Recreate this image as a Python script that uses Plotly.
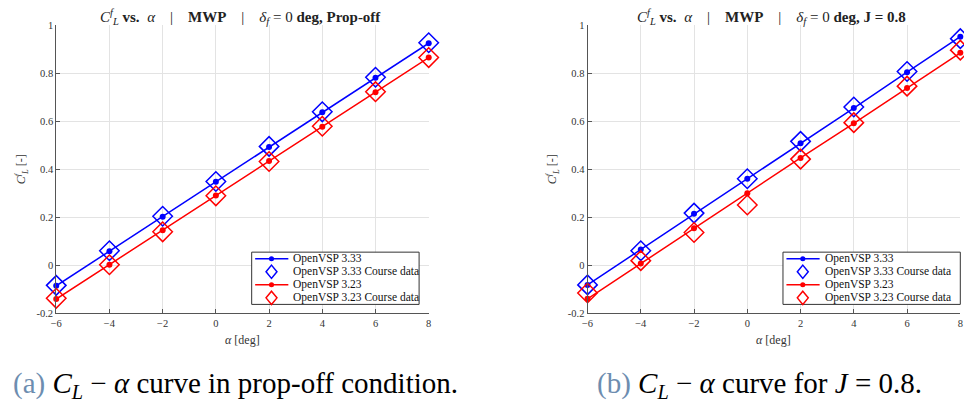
import plotly.graph_objects as go

# Angle of attack [deg]
alpha = [-6, -4, -2, 0, 2, 4, 6, 8]
x_ticks = [-6, -4, -2, 0, 2, 4, 6, 8]
y_ticks = [-0.2, 0, 0.2, 0.4, 0.6, 0.8, 1]
y_tick_text = ["-0.2", "0", "0.2", "0.4", "0.6", "0.8", "1"]

# Prop-off condition
cl_333_off = [-0.085, 0.059, 0.203, 0.349, 0.494, 0.638, 0.782, 0.926]
cl_333_off_course = [-0.083, 0.061, 0.205, 0.350, 0.496, 0.640, 0.784, 0.928]
cl_323_off = [-0.140, 0.003, 0.147, 0.291, 0.435, 0.578, 0.722, 0.866]
cl_323_off_course = [-0.137, 0.003, 0.140, 0.290, 0.433, 0.580, 0.724, 0.866]

# Prop-on, J = 0.8
cl_333_j = [-0.081, 0.066, 0.215, 0.361, 0.509, 0.656, 0.805, 0.953]
cl_333_j_course = [-0.081, 0.061, 0.218, 0.361, 0.517, 0.660, 0.808, 0.945]
cl_323_j = [-0.139, 0.008, 0.155, 0.301, 0.448, 0.592, 0.739, 0.886]
cl_323_j_course = [-0.115, 0.020, 0.137, 0.252, 0.443, 0.595, 0.747, 0.897]

series_names = ["OpenVSP 3.33", "OpenVSP 3.33 Course data",
                "OpenVSP 3.23", "OpenVSP 3.23 Course data"]

W, H = 964, 408
SERIF = "Liberation Serif, DejaVu Serif, serif"
BLUE, RED = "#0000ff", "#ff0000"
series_colors = [BLUE, BLUE, RED, RED]
series_kinds = ["line", "diamond", "line", "diamond"]

# plot-area pixel boxes
left_box = (50.7, 426.7)
right_box = (587.0, 963.3)
top_px, bot_px = 21.0, 317.0


def px_x(v):
    return v / W


def px_y(v):
    return 1 - v / H


fig = go.Figure()


def add_panel(xa, ya, cl_a, cl_a_c, cl_b, cl_b_c):
    values = [cl_a, cl_a_c, cl_b, cl_b_c]
    for name, vals, color, kind in zip(series_names, values, series_colors, series_kinds):
        if kind == "line":
            fig.add_trace(go.Scatter(x=alpha, y=vals, mode="lines+markers", name=name,
                                     xaxis=xa, yaxis=ya, cliponaxis=False, showlegend=False,
                                     line=dict(color=color, width=1.5),
                                     marker=dict(color=color, size=6)))
        else:
            fig.add_trace(go.Scatter(x=alpha, y=vals, mode="markers", name=name,
                                     xaxis=xa, yaxis=ya, cliponaxis=False, showlegend=False,
                                     marker=dict(symbol="diamond-open", color=color, size=15,
                                                 line=dict(width=1.5, color=color))))


add_panel("x", "y", cl_333_off, cl_333_off_course, cl_323_off, cl_323_off_course)
add_panel("x2", "y2", cl_333_j, cl_333_j_course, cl_323_j, cl_323_j_course)

axis_font = dict(family=SERIF, size=10.5, color="#333333")
xaxis_common = dict(range=[-6, 8], tickvals=x_ticks, ticks="inside", ticklen=4,
                    tickcolor="#555555", showline=True, linecolor="#555555", linewidth=1,
                    showgrid=True, gridcolor="#e3e3e3", gridwidth=1, zeroline=False,
                    tickfont=axis_font, fixedrange=True)
yaxis_common = dict(range=[-0.2, 1], tickvals=y_ticks, ticktext=y_tick_text, ticks="inside",
                    ticklen=4, tickcolor="#555555", showline=True, linecolor="#555555",
                    linewidth=1, showgrid=True, gridcolor="#e3e3e3", gridwidth=1,
                    zeroline=False, tickfont=axis_font, fixedrange=True)

fig.update_layout(
    width=W, height=H, margin=dict(l=0, r=0, t=0, b=0),
    paper_bgcolor="#ffffff", plot_bgcolor="#ffffff", showlegend=False,
    xaxis=dict(domain=[px_x(left_box[0]), px_x(left_box[1])], anchor="y", **xaxis_common),
    yaxis=dict(domain=[px_y(bot_px), px_y(top_px)], anchor="x", **yaxis_common),
    xaxis2=dict(domain=[px_x(right_box[0]), min(1.0, px_x(right_box[1]))], anchor="y2", **xaxis_common),
    yaxis2=dict(domain=[px_y(bot_px), px_y(top_px)], anchor="x2", **yaxis_common),
)


# compact legend box (MATLAB style) drawn in paper coordinates
def add_legend(left, top, right, bottom):
    fig.add_shape(type="rect", xref="paper", yref="paper",
                  x0=px_x(left), x1=px_x(right), y0=px_y(bottom), y1=px_y(top),
                  line=dict(color="#333333", width=1), fillcolor="#ffffff", layer="above")
    row_h = (bottom - top) / 4
    for i, (name, color, kind) in enumerate(zip(series_names, series_colors, series_kinds)):
        cy = top + row_h * (i + 0.5)
        gx = left + 20
        if kind == "line":
            fig.add_shape(type="line", xref="paper", yref="paper",
                          x0=px_x(left + 3.5), x1=px_x(left + 37), y0=px_y(cy), y1=px_y(cy),
                          line=dict(color=color, width=1.5), layer="above")
            r = 2.6
            fig.add_shape(type="circle", xref="paper", yref="paper",
                          x0=px_x(gx - r), x1=px_x(gx + r), y0=px_y(cy + r), y1=px_y(cy - r),
                          line=dict(color=color, width=0), fillcolor=color, layer="above")
        else:
            hw, hh = 5.5, 6.8
            path = (f"M {px_x(gx)},{px_y(cy - hh)} L {px_x(gx + hw)},{px_y(cy)} "
                    f"L {px_x(gx)},{px_y(cy + hh)} L {px_x(gx - hw)},{px_y(cy)} Z")
            fig.add_shape(type="path", xref="paper", yref="paper", path=path,
                          line=dict(color=color, width=1.5), layer="above")
        fig.add_annotation(text=name, x=px_x(left + 40), y=px_y(cy), xref="paper", yref="paper",
                           xanchor="left", yanchor="middle", showarrow=False,
                           font=dict(family=SERIF, size=11.5, color="#111111"))


add_legend(248.0, 254.0, 417.0, 307.7)
add_legend(784.3, 254.0, 963.3, 307.7)

title_font = dict(family=SERIF, size=15, color="#222222")
sp = "\u00a0" * 4
cl_f = "<i>C</i><sup><i>f</i></sup><sub><i>L</i></sub>"
titles = [
    (sum(left_box) / 2 - 2,
     f"{cl_f} <b>vs.</b>\u00a0 <i>α</i>{sp}|{sp}<b>MWP</b>{sp}|{sp}<i>δ</i><sub><i>f</i></sub> = 0 <b>deg, Prop-off</b>"),
    (sum(right_box) / 2 - 2,
     f"{cl_f} <b>vs.</b>\u00a0 <i>α</i>{sp}|{sp}<b>MWP</b>{sp}|{sp}<i>δ</i><sub><i>f</i></sub> = 0 <b>deg, J = 0.8</b>"),
]
for cx, txt in titles:
    fig.add_annotation(text=txt, x=px_x(cx), y=px_y(12), xref="paper", yref="paper",
                       xanchor="center", yanchor="middle", showarrow=False, font=title_font)

label_font = dict(family=SERIF, size=12, color="#333333")
for cx in (sum(left_box) / 2, sum(right_box) / 2):
    fig.add_annotation(text="<i>α</i> [deg]", x=px_x(cx), y=px_y(344), xref="paper", yref="paper",
                       xanchor="center", yanchor="middle", showarrow=False, font=label_font)
for lx in (16, 552):
    fig.add_annotation(text=f"{cl_f} [-]", x=px_x(lx), y=px_y(169), xref="paper", yref="paper",
                       xanchor="center", yanchor="middle", textangle=-90, showarrow=False,
                       font=label_font)

cap_font = dict(family=SERIF, size=29, color="#000000")
cap_tag = "#6d8db0"
captions = [
    (5, f"<span style='color:{cap_tag}'>(a)</span> <i>C</i><sub><i>L</i></sub> − <i>α</i> curve in prop-off condition."),
    (595, f"<span style='color:{cap_tag}'>(b)</span> <i>C</i><sub><i>L</i></sub> − <i>α</i> curve for <i>J</i> = 0.8."),
]
for lx, txt in captions:
    fig.add_annotation(text=txt, x=px_x(lx), y=px_y(391), xref="paper", yref="paper",
                       xanchor="left", yanchor="middle", showarrow=False, font=cap_font)

fig.write_html("out.html")
